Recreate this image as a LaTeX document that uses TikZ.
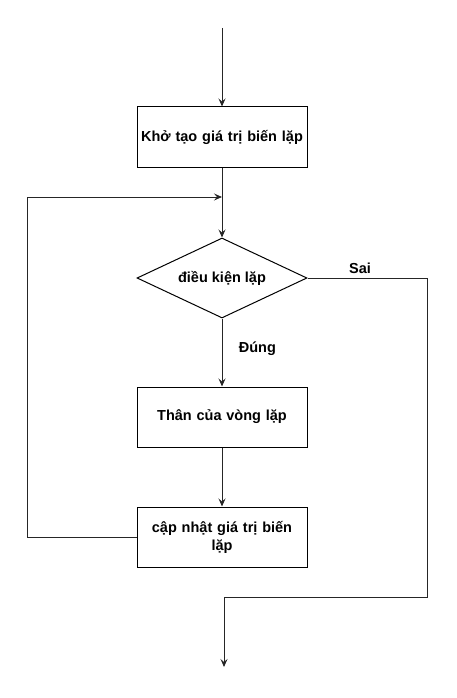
\documentclass[tikz,border=0pt]{standalone}
\usepackage{fontspec}
\setmainfont{Liberation Sans}
\usetikzlibrary{arrows.meta,shapes.geometric}
\begin{document}
\begin{tikzpicture}[x=1pt,y=-1pt,
  every node/.style={font=\bfseries\fontsize{14.5}{18}\selectfont},
  procbox/.style={draw,line width=1pt,minimum width=170pt,minimum height=60pt,align=center,text width=168pt,inner sep=0pt},
  decbox/.style={draw,line width=1pt,diamond,aspect=2.125,minimum width=170pt,minimum height=80pt,inner sep=0pt},
  conn/.style={line width=1pt,draw=black!85,-{Stealth[length=8pt,width=7pt,inset=3pt]}}]
\useasboundingbox (0,0) rectangle (457,698);
\coordinate (start) at (222,28);
\node[procbox] (init) at (222,137) {Khở tạo giá trị biến lặp};
\coordinate (merge) at (222,197);
\node[decbox] (cond) at (222,278) {điều kiện lặp};
\node[procbox] (body) at (222,417) {Thân của vòng lặp};
\node[procbox] (upd) at (222,537) {cập nhật giá trị biến\\lặp};
\coordinate (rt) at (427,278);
\coordinate (rb) at (427,597);
\coordinate (ob) at (224,597);
\coordinate (end) at (224,667);
\coordinate (lb) at (27,537);
\coordinate (lt) at (27,197);
\draw[conn] (start) -- (init.north);
\draw[conn] (init.south) -- (cond.north);
\draw[conn] (cond.south) -- node[pos=0.45,right=13pt] {Đúng} (body.north);
\draw[conn] (body.south) -- (upd.north);
\draw[conn] (upd.west) -- (lb) -- (lt) -- (merge);
\draw[conn] (cond.east) -- node[pos=0.44,above=1pt] {Sai} (rt) -- (rb) -- (ob) -- (end);
\end{tikzpicture}
\end{document}
